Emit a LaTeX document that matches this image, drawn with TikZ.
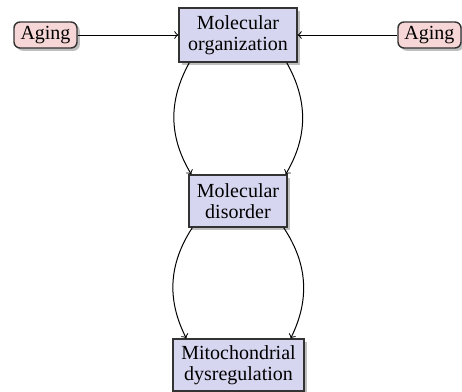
\documentclass[tikz,border=0pt]{standalone}
\usepackage{fontspec}
\setmainfont{Liberation Serif}
\usepackage{tikz}
\usetikzlibrary{shadows}

\definecolor{procfill}{RGB}{214,214,240}
\definecolor{agefill}{RGB}{246,214,214}

\begin{document}
\begin{tikzpicture}[x=0.5pt,y=-0.5pt,
	procbox/.style={draw=black!80, line width=0.7pt, fill=procfill, align=center,
		inner sep=0pt, font=\fontsize{10}{10.4}\selectfont,
		drop shadow={shadow xshift=1.6pt, shadow yshift=-1.6pt, fill=black!25, opacity=1}},
	agebox/.style={draw=black!80, line width=0.7pt, fill=agefill, rounded corners=3pt,
		inner sep=0pt, minimum width=31.5pt, minimum height=13pt, font=\fontsize{10}{10.4}\selectfont,
		drop shadow={shadow xshift=1.4pt, shadow yshift=-1.4pt, fill=black!25, opacity=1}},
	link/.style={->, line width=0.5pt}
]

\useasboundingbox (0,0) rectangle (462,392);

\node[agebox] (agingL) at (45.5,35) {Aging};
\node[agebox] (agingR) at (429.5,35) {Aging};

\node[procbox, minimum width=59pt, minimum height=27pt] (org) at (238,35) {Molecular\\organization};
\node[procbox, minimum width=49pt, minimum height=26pt] (dis) at (238,201) {Molecular\\disorder};
\node[procbox, minimum width=65.5pt, minimum height=26pt] (mito) at (238.5,365) {Mitochondrial\\dysregulation};

\draw[link] (agingL) -- (org);
\draw[link] (agingR) -- (org);

% curved links between the stages
\coordinate (o1) at ([xshift=5.5pt]org.south west);
\coordinate (o2) at ([xshift=-5.5pt]org.south east);
\draw[link] (o1) to[bend right=30] ([xshift=1.5pt]dis.north west);
\draw[link] (o2) to[bend left=30] ([xshift=-1pt]dis.north east);

\draw[link] ([xshift=2pt]dis.south west) to[bend right=30] ([xshift=7pt]mito.north west);
\draw[link] ([xshift=-2pt]dis.south east) to[bend left=30] ([xshift=-7pt]mito.north east);

\end{tikzpicture}
\end{document}
